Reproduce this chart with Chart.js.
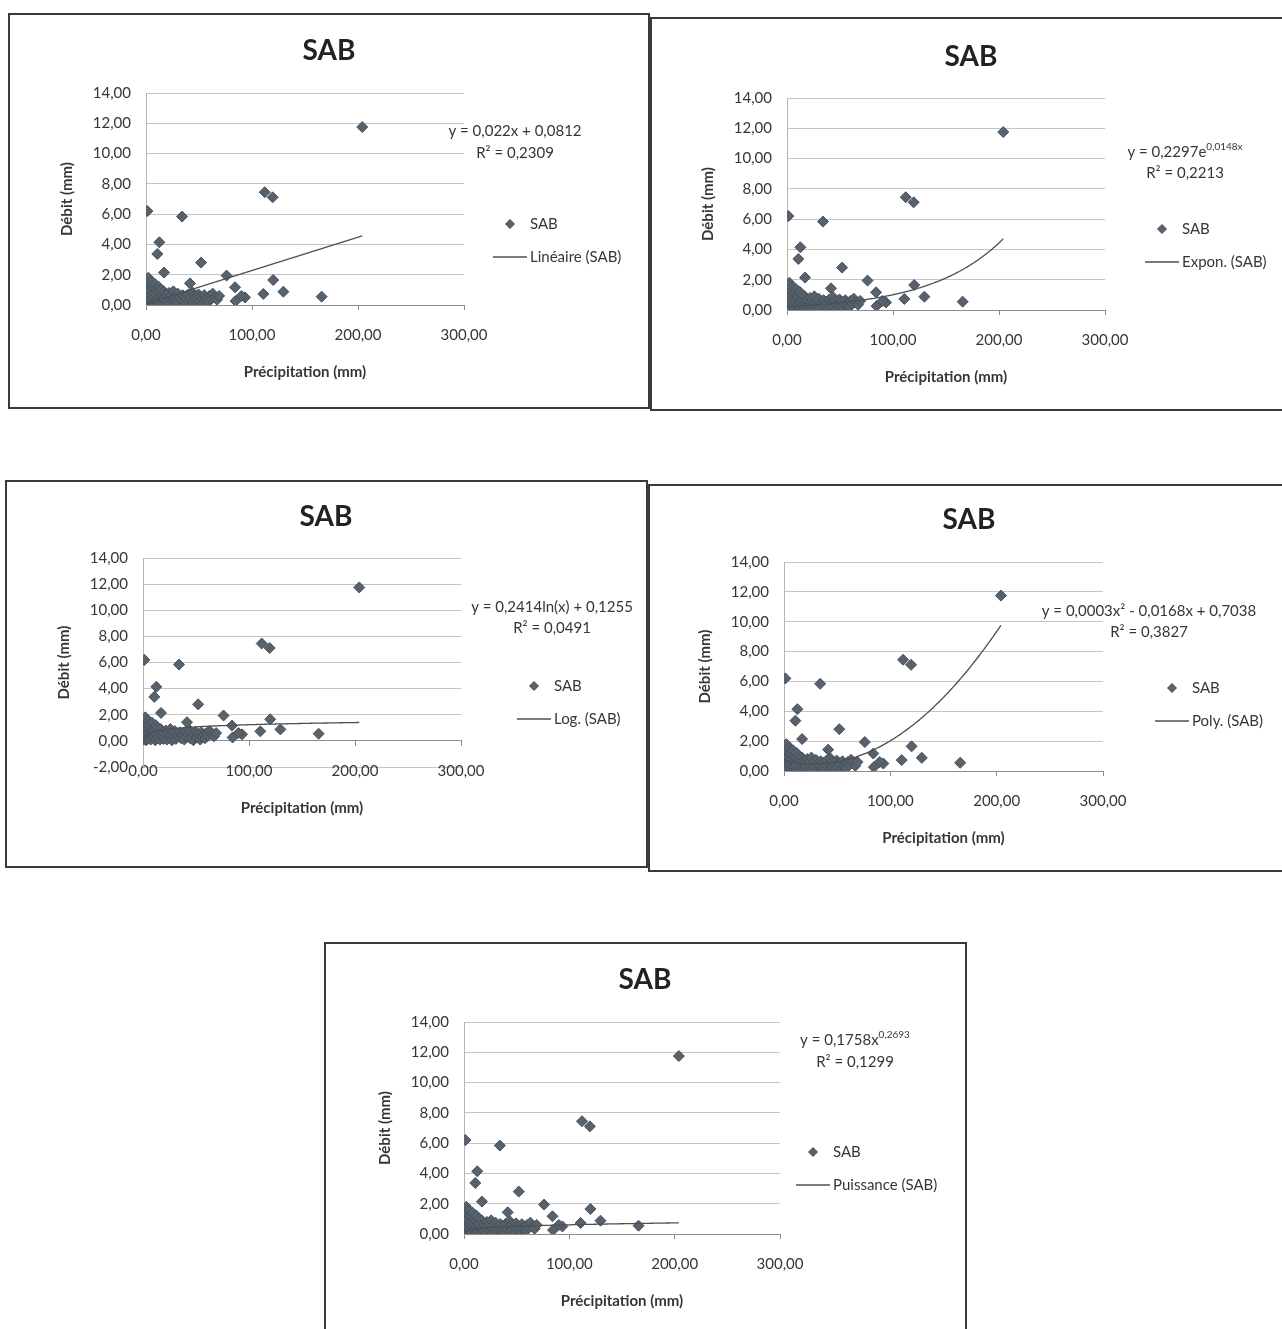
<!DOCTYPE html>
<html>
<head>
<meta charset="utf-8">
<title>SAB – Débit / Précipitation</title>
<script src="https://cdn.jsdelivr.net/npm/chart.js@4.4.1/dist/chart.umd.min.js"></script>
<style>
  html, body { margin: 0; padding: 0; background: #ffffff; width: 1282px; height: 1329px; overflow: hidden; }
  canvas { position: absolute; }
</style>
</head>
<body>
<script>
// Station SAB: precipitation (mm) and discharge (mm), one pair per observation
const precipitation = [
  0.5, 0.8, 1.0, 1.2, 1.5, 2.0, 2.2, 2.5, 3.0, 3.2, 3.5, 4.0, 4.2, 4.8, 5.0,
  5.5, 6.0, 6.5, 7.0, 7.2, 7.8, 8.3, 8.8, 9.2, 9.8,
  10.5, 11.0, 11.5, 12.0, 12.5, 13.0, 13.6, 14.2, 15.0, 15.5, 16.0, 16.8, 17.5, 18.0, 18.7, 19.4, 20.0,
  21.0, 21.8, 22.5, 23.2, 24.0, 25.0, 25.8, 26.5, 27.3, 28.0, 29.0, 30.0, 31.0, 32.0, 33.0, 34.5,
  36.0, 37.0, 38.0, 39.0, 40.0, 41.0, 42.5, 43.5, 44.5, 45.5, 46.5, 47.5, 48.5, 49.5,
  50.5, 51.5, 53.0, 54.0, 55.0, 56.0, 57.5, 58.5, 60.0, 61.5, 63.0, 65.0, 67.0, 69.0,
  1.3, 34.0, 12.6, 10.7, 52.0, 17.0, 76.0, 41.5, 120.0, 84.0, 129.6, 93.4, 110.7, 84.5, 165.7, 112.0, 119.5, 204.0, 90.0
];
const debit = [
  0.20, 0.50, 1.00, 0.10, 1.60, 0.30, 1.80, 0.70, 0.05, 1.30, 0.45, 0.90, 0.15, 1.50, 0.60,
  1.20, 0.35, 0.80, 1.10, 0.10, 0.50, 1.40, 0.25, 0.70, 1.00,
  0.30, 0.85, 0.05, 1.20, 0.50, 0.20, 0.75, 1.00, 0.35, 0.60, 0.10, 0.90, 0.45, 0.25, 0.70, 0.15, 0.55,
  0.30, 0.80, 0.10, 0.50, 0.65, 0.25, 0.90, 0.40, 0.05, 0.60, 0.30, 0.75, 0.15, 0.50, 0.35, 0.65,
  0.20, 0.55, 0.40, 0.10, 0.70, 0.30, 0.50, 0.85, 0.20, 0.60, 0.35, 0.05, 0.45, 0.70,
  0.25, 0.55, 0.40, 0.10, 0.65, 0.30, 0.50, 0.20, 0.60, 0.40, 0.75, 0.50, 0.35, 0.60,
  6.20, 5.84, 4.14, 3.37, 2.80, 2.14, 1.94, 1.43, 1.65, 1.17, 0.88, 0.50, 0.73, 0.26, 0.55, 7.45, 7.11, 11.75, 0.60
];

// Axis ticks
const xTickValues = [0, 100, 200, 300];
const yTickValues = [0, 2, 4, 6, 8, 10, 12, 14];
const yTickValuesLog = [-2, 0, 2, 4, 6, 8, 10, 12, 14];

// Trend-line coefficients and fit quality
const linearCoef = [0.022, 0.0812];          // y = a x + b
const expCoef = [0.2297, 0.0148];            // y = a e^(b x)
const logCoef = [0.2414, 0.1255];            // y = a ln(x) + b
const polyCoef = [0.0003, -0.0168, 0.7038];  // y = a x² + b x + c
const powerCoef = [0.1758, 0.2693];          // y = a x^b
const trendKinds = ['linear', 'exp', 'log', 'poly', 'power'];
const trendNames = ['Linéaire (SAB)', 'Expon. (SAB)', 'Log. (SAB)', 'Poly. (SAB)', 'Puissance (SAB)'];
const rSquared = [0.2309, 0.2213, 0.0491, 0.3827, 0.1299];
const seriesName = 'SAB';

// Page layout of the five panels (page pixels)
const panels = [
  { frame: [8, 13, 642, 396],   plot: [146, 93, 464, 305],   axisAtZero: false, title: [329, 51],  eq: [515, 131, 153],  legend: [493, 224] },
  { frame: [650, 17, 642, 394], plot: [787, 98, 1105, 310],  axisAtZero: false, title: [971, 57],  eq: [1185, 152, 173], legend: [1145, 229] },
  { frame: [5, 480, 643, 388],  plot: [143, 558, 461, 767],  axisAtZero: true,  title: [326, 517], eq: [552, 607, 628],  legend: [517, 686] },
  { frame: [648, 484, 642, 388],plot: [784, 562, 1103, 771], axisAtZero: false, title: [969, 520], eq: [1149, 611, 632], legend: [1155, 688] },
  { frame: [324, 942, 643, 396],plot: [464, 1022, 780, 1234],axisAtZero: false, title: [645, 980], eq: [855, 1040, 1062],legend: [796, 1152] }
];

const FONT = 'Lato, "Open Sans", sans-serif';
const TEXT = '#363636';
const MARK_FILL = '#58626c';
const MARK_EDGE = '#47515b';
const TREND = '#4f4f4f';

const fr = v => String(v).replace('.', ',');
const fmt2 = v => v.toFixed(2).replace('.', ',');

function trendValue(kind, x) {
  switch (kind) {
    case 'linear': return linearCoef[0] * x + linearCoef[1];
    case 'exp':    return expCoef[0] * Math.exp(expCoef[1] * x);
    case 'log':    return logCoef[0] * Math.log(x) + logCoef[1];
    case 'poly':   return polyCoef[0] * x * x + polyCoef[1] * x + polyCoef[2];
    case 'power':  return powerCoef[0] * Math.pow(x, powerCoef[1]);
  }
}

function equationParts(kind) {
  switch (kind) {
    case 'linear': return [{ t: `y = ${fr(linearCoef[0])}x + ${fr(linearCoef[1])}` }];
    case 'exp':    return [{ t: `y = ${fr(expCoef[0])}e` }, { t: `${fr(expCoef[1])}x`, sup: true }];
    case 'log':    return [{ t: `y = ${fr(logCoef[0])}ln(x) + ${fr(logCoef[1])}` }];
    case 'poly':   return [{ t: `y = ${fr(polyCoef[0])}x² - ${fr(-polyCoef[1])}x + ${fr(polyCoef[2])}` }];
    case 'power':  return [{ t: `y = ${fr(powerCoef[0])}x` }, { t: fr(powerCoef[1]), sup: true }];
  }
}

// Fitted curve evaluated across the observed precipitation range
function trendPoints(kind) {
  const lo = Math.min(...precipitation), hi = Math.max(...precipitation);
  const n = kind === 'linear' ? 1 : 160;
  const pts = [];
  for (let i = 0; i <= n; i++) {
    const x = lo + (hi - lo) * i / n;
    pts.push({ x, y: trendValue(kind, x) });
  }
  return pts;
}

function diamond(ctx, x, y, r) {
  ctx.beginPath();
  ctx.moveTo(x - r, y); ctx.lineTo(x, y - r); ctx.lineTo(x + r, y); ctx.lineTo(x, y + r);
  ctx.closePath();
  ctx.fill(); ctx.stroke();
}

// Frame, title, axis titles, trend equation and legend
const decor = {
  id: 'decor',
  afterDraw(chart, _args, o) {
    const ctx = chart.ctx;
    const [ox, oy] = o.origin;
    const area = chart.chartArea;
    ctx.save();
    ctx.strokeStyle = '#3a3a3a';
    ctx.lineWidth = 2;
    ctx.strokeRect(1, 1, chart.width - 2, chart.height - 2);

    ctx.fillStyle = '#222';
    ctx.textAlign = 'center';
    ctx.textBaseline = 'middle';
    ctx.font = `bold 28px ${FONT}`;
    ctx.fillText(o.title, o.titlePos[0] - ox, o.titlePos[1] - oy);

    ctx.fillStyle = TEXT;
    ctx.font = `bold 15px ${FONT}`;
    const axisY = chart.scales.y.getPixelForValue(0);
    ctx.fillText('Précipitation (mm)', (area.left + area.right) / 2, axisY + 67);
    ctx.save();
    ctx.translate(area.left - 79, (area.top + area.bottom) / 2);
    ctx.rotate(-Math.PI / 2);
    ctx.fillText('Débit (mm)', 0, 0);
    ctx.restore();

    // equation, centred, with optional superscript part
    const base = `15px ${FONT}`, small = `10px ${FONT}`;
    let total = 0;
    o.equation.forEach(p => { ctx.font = p.sup ? small : base; p.w = ctx.measureText(p.t).width; total += p.w; });
    let x = o.eqPos[0] - ox - total / 2;
    ctx.textAlign = 'left';
    o.equation.forEach(p => {
      ctx.font = p.sup ? small : base;
      ctx.fillText(p.t, x, o.eqPos[1] - oy - (p.sup ? 5 : 0));
      x += p.w;
    });
    ctx.font = base;
    ctx.textAlign = 'center';
    ctx.fillText(`R² = ${fr(o.r2)}`, o.eqPos[0] - ox, o.eqPos[2] - oy);

    // legend
    const lx = o.legendPos[0] - ox, ly = o.legendPos[1] - oy;
    ctx.fillStyle = MARK_FILL; ctx.strokeStyle = MARK_EDGE; ctx.lineWidth = 1;
    diamond(ctx, lx + 17, ly, 4.5);
    ctx.strokeStyle = TREND; ctx.lineWidth = 1.3;
    ctx.beginPath(); ctx.moveTo(lx, ly + 33); ctx.lineTo(lx + 34, ly + 33); ctx.stroke();
    ctx.fillStyle = TEXT; ctx.textAlign = 'left'; ctx.font = base;
    ctx.fillText(seriesName, lx + 37, ly);
    ctx.fillText(o.trendName, lx + 37, ly + 33);
    ctx.restore();
  }
};

const Y_AXIS_W = 70, X_AXIS_H = 60;

panels.forEach((p, i) => {
  const kind = trendKinds[i];
  const [fx, fy, W, H] = p.frame;
  const L = p.plot[0] - fx, T = p.plot[1] - fy, R = p.plot[2] - fx, B = p.plot[3] - fy;
  const yTicks = p.axisAtZero ? yTickValuesLog : yTickValues;

  const canvas = document.createElement('canvas');
  canvas.width = W; canvas.height = H;
  canvas.style.left = fx + 'px'; canvas.style.top = fy + 'px';
  canvas.style.width = W + 'px'; canvas.style.height = H + 'px';
  document.body.appendChild(canvas);

  new Chart(canvas, {
    type: 'scatter',
    data: {
      datasets: [
        {
          type: 'line',
          label: trendNames[i],
          data: trendPoints(kind),
          borderColor: TREND,
          borderWidth: 1.3,
          pointRadius: 0,
          fill: false,
          tension: 0
        },
        {
          label: seriesName,
          data: precipitation.map((x, k) => ({ x, y: debit[k] })),
          pointStyle: 'rectRot',
          pointRadius: 5.5,
          backgroundColor: MARK_FILL,
          borderColor: MARK_EDGE,
          borderWidth: 1
        }
      ]
    },
    options: {
      responsive: false,
      animation: false,
      events: [],
      layout: {
        padding: {
          left: L - Y_AXIS_W,
          top: T,
          right: W - R,
          bottom: p.axisAtZero ? H - B : H - B - X_AXIS_H
        }
      },
      plugins: {
        legend: { display: false },
        tooltip: { enabled: false },
        title: { display: false },
        decor: {
          origin: [fx, fy],
          title: seriesName,
          titlePos: p.title,
          equation: equationParts(kind),
          eqPos: p.eq,
          r2: rSquared[i],
          legendPos: p.legend,
          trendName: trendNames[i]
        }
      },
      scales: {
        x: {
          type: 'linear',
          position: p.axisAtZero ? { y: 0 } : 'bottom',
          min: xTickValues[0],
          max: xTickValues[xTickValues.length - 1],
          afterBuildTicks: s => { s.ticks = xTickValues.map(v => ({ value: v })); },
          afterFit: s => { if (!p.axisAtZero) s.height = X_AXIS_H; },
          ticks: {
            padding: 16,
            color: TEXT,
            font: { family: FONT, size: 15 },
            maxRotation: 0,
            callback: v => fmt2(v)
          },
          grid: { drawOnChartArea: false, drawTicks: true, tickLength: 5, color: '#8c8c8c' },
          border: { display: true, color: '#8c8c8c', width: 1 }
        },
        y: {
          type: 'linear',
          min: yTicks[0],
          max: yTicks[yTicks.length - 1],
          afterBuildTicks: s => { s.ticks = yTicks.map(v => ({ value: v })); },
          afterFit: s => { s.width = Y_AXIS_W; },
          ticks: {
            padding: 15,
            color: TEXT,
            font: { family: FONT, size: 15 },
            callback: v => fmt2(v)
          },
          grid: { drawTicks: false, color: '#c4c4c4', lineWidth: 1 },
          border: { display: true, color: '#b4b4b4', width: 1 }
        }
      }
    },
    plugins: [decor]
  });
});
</script>
</body>
</html>
